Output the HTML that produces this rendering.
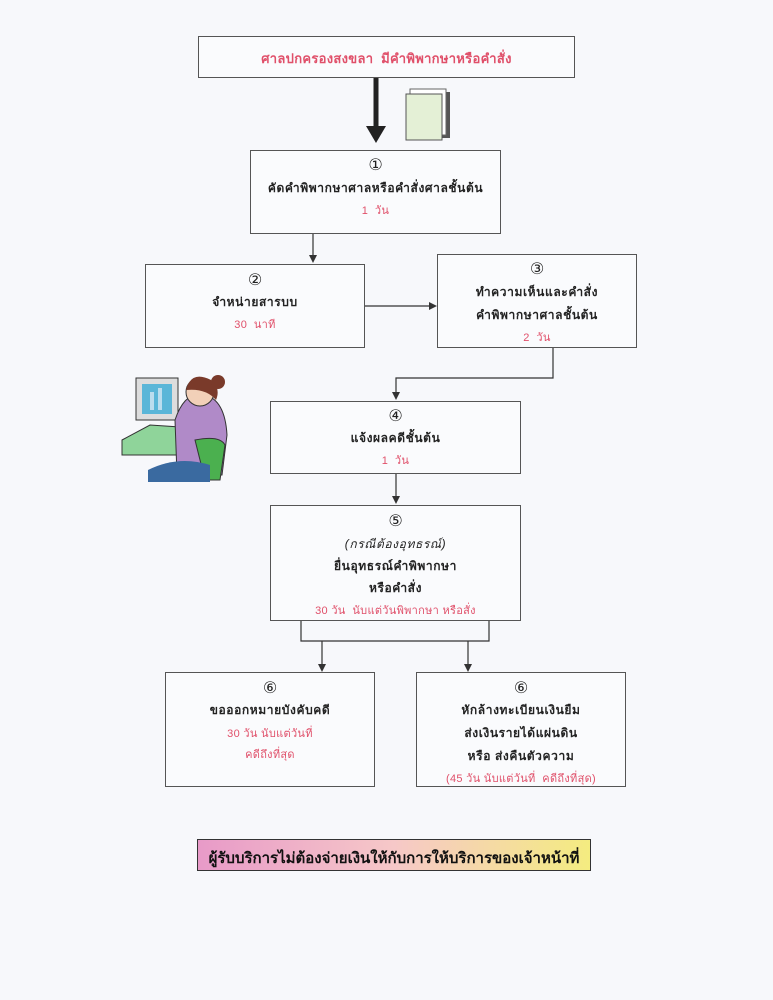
<!DOCTYPE html>
<html><head><meta charset="utf-8"><style>
body{margin:0;width:773px;height:1000px;background:#f7f8fb;position:relative;overflow:hidden;font-family:"Liberation Sans","DejaVu Sans",sans-serif}
.b{position:absolute;border:1.5px solid #555;background:#fafbfd;box-sizing:border-box}
.t{position:absolute;left:0;right:0;text-align:center;font-size:12px;font-weight:bold;color:#222;white-space:nowrap;letter-spacing:0.6px}
.r{color:#e0506a;font-weight:normal;font-size:11px;letter-spacing:0.3px}
.n{font-size:16px;font-weight:normal;letter-spacing:0}
svg{position:absolute;left:0;top:0}
</style></head><body>
<svg width="773" height="1000">
<defs><marker id="a" markerWidth="8" markerHeight="8" refX="4" refY="4" orient="auto" markerUnits="userSpaceOnUse"><path d="M0,0L8,4L0,8z" fill="#333"/></marker></defs>
<line x1="376" y1="77" x2="376" y2="128" stroke="#222" stroke-width="5"/>
<path d="M366,126L386,126L376,143z" fill="#222"/>
<rect x="414" y="92" width="36" height="46" fill="#555"/>
<rect x="410" y="89" width="36" height="46" fill="#fff" stroke="#666"/>
<rect x="406" y="94" width="36" height="46" fill="#e4f0d6" stroke="#555"/>
<g stroke="#333" stroke-width="1.2" fill="none">
<line x1="313" y1="233" x2="313" y2="259" marker-end="url(#a)"/>
<line x1="365" y1="306" x2="433" y2="306" marker-end="url(#a)"/>
<polyline points="553,348 553,378 396,378 396,396" marker-end="url(#a)"/>
<line x1="396" y1="474" x2="396" y2="500" marker-end="url(#a)"/>
<polyline points="301,620 301,641 489,641 489,620"/>
<line x1="322" y1="641" x2="322" y2="668" marker-end="url(#a)"/>
<line x1="468" y1="641" x2="468" y2="668" marker-end="url(#a)"/>
</g>
<!-- person clipart -->
<path d="M122,440 L150,425 L195,428 L185,455 L122,455z" fill="#8fd49a" stroke="#333"/>
<rect x="136" y="378" width="42" height="42" fill="#ddd" stroke="#333"/>
<rect x="142" y="384" width="30" height="30" fill="#5ab6d8"/>
<rect x="150" y="392" width="4" height="18" fill="#bde"/><rect x="158" y="388" width="4" height="22" fill="#bde"/>
<path d="M175,420 q10,-30 30,-25 q20,5 22,40 l-5,40 l-45,0z" fill="#b08ac8" stroke="#333"/>
<circle cx="200" cy="392" r="14" fill="#f2d0b8" stroke="#333"/>
<path d="M186,390 q5,-20 25,-10 q10,8 5,20 q-10,-12 -30,-10z" fill="#7a3a2a"/>
<circle cx="218" cy="382" r="7" fill="#7a3a2a"/>
<path d="M195,440 q25,-5 30,5 l-5,35 l-15,0z" fill="#4bb04f" stroke="#333"/>
<path d="M148,470 q30,-15 62,-5 l0,17 l-62,0z" fill="#3a6aa0"/>
</svg>
<div class="b" style="left:198px;top:36px;width:377px;height:42px"><div class="t r" style="top:11px;font-size:13px;font-weight:bold">ศาลปกครองสงขลา&nbsp; มีคำพิพากษาหรือคำสั่ง</div></div>
<div class="b" style="left:250px;top:150px;width:251px;height:84px"><div class="t n" style="top:4px">①</div><div class="t" style="top:28px">คัดคำพิพากษาศาลหรือคำสั่งศาลชั้นต้น</div><div class="t r" style="top:50px">1&nbsp; วัน</div></div>
<div class="b" style="left:145px;top:264px;width:220px;height:84px"><div class="t n" style="top:5px">②</div><div class="t" style="top:28px">จำหน่ายสารบบ</div><div class="t r" style="top:50px">30&nbsp; นาที</div></div>
<div class="b" style="left:437px;top:254px;width:200px;height:94px"><div class="t n" style="top:4px">③</div><div class="t" style="top:28px">ทำความเห็นและคำสั่ง</div><div class="t" style="top:51px">คำพิพากษาศาลชั้นต้น</div><div class="t r" style="top:73px">2&nbsp; วัน</div></div>
<div class="b" style="left:270px;top:401px;width:251px;height:73px"><div class="t n" style="top:4px">④</div><div class="t" style="top:27px">แจ้งผลคดีชั้นต้น</div><div class="t r" style="top:49px">1&nbsp; วัน</div></div>
<div class="b" style="left:270px;top:505px;width:251px;height:116px"><div class="t n" style="top:5px">⑤</div><div class="t" style="top:29px;font-weight:normal;font-style:italic">(กรณีต้องอุทธรณ์)</div><div class="t" style="top:51px">ยื่นอุทธรณ์คำพิพากษา</div><div class="t" style="top:73px">หรือคำสั่ง</div><div class="t r" style="top:95px">30 วัน&nbsp; นับแต่วันพิพากษา หรือสั่ง</div></div>
<div class="b" style="left:165px;top:672px;width:210px;height:115px"><div class="t n" style="top:5px">⑥</div><div class="t" style="top:28px">ขอออกหมายบังคับคดี</div><div class="t r" style="top:51px">30 วัน นับแต่วันที่</div><div class="t r" style="top:72px">คดีถึงที่สุด</div></div>
<div class="b" style="left:416px;top:672px;width:210px;height:115px"><div class="t n" style="top:5px">⑥</div><div class="t" style="top:28px">หักล้างทะเบียนเงินยืม</div><div class="t" style="top:51px">ส่งเงินรายได้แผ่นดิน</div><div class="t" style="top:74px">หรือ ส่งคืนตัวความ</div><div class="t r" style="top:96px">(45 วัน นับแต่วันที่&nbsp; คดีถึงที่สุด)</div></div>
<div class="b" style="left:197px;top:839px;width:394px;height:32px;background:linear-gradient(90deg,#e89ac8,#f6c8c8 50%,#f4ec80);border-color:#333"><div class="t" style="top:6px;font-size:15px;color:#111;letter-spacing:0">ผู้รับบริการไม่ต้องจ่ายเงินให้กับการให้บริการของเจ้าหน้าที่</div></div>
</body></html>
